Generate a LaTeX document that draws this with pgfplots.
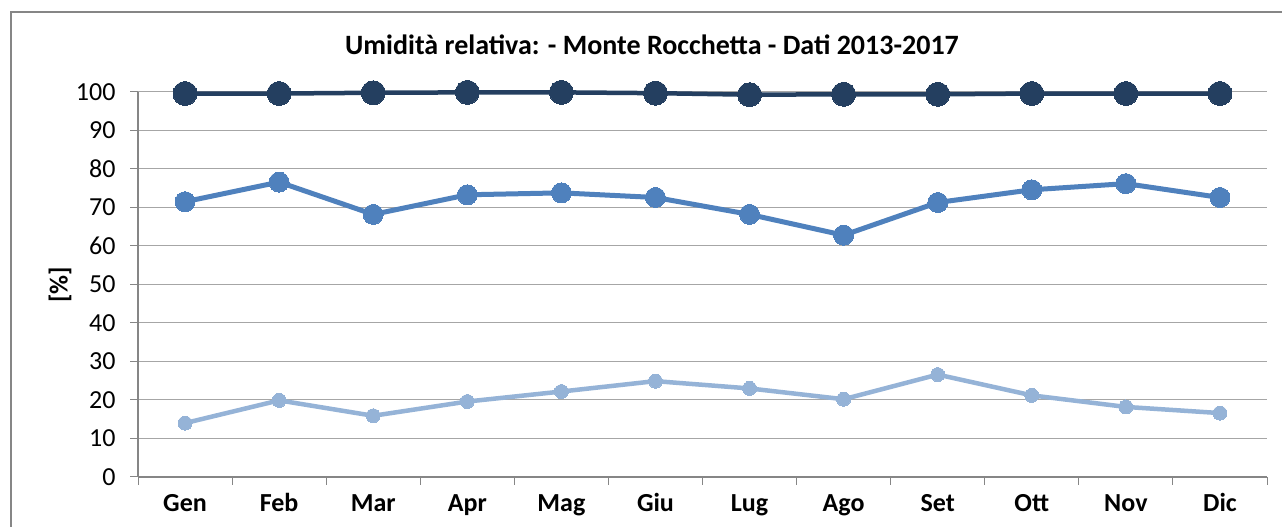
\documentclass[border=0pt]{standalone}
\usepackage{fontspec}
\setmainfont{Carlito}
\usepackage{pgfplots}
\pgfplotsset{compat=1.18}
\definecolor{navy}{HTML}{243F60}
\definecolor{midblue}{HTML}{4F81BD}
\definecolor{lightblue}{HTML}{95B3D7}
\definecolor{gridgray}{HTML}{A6A6A6}
\definecolor{axgray}{HTML}{868686}
\begin{document}
\begin{tikzpicture}
\useasboundingbox (0,0) rectangle (1282pt,527pt);
\clip (0,0) rectangle (1282pt,527pt);
\fill[white] (0,0) rectangle (1282pt,527pt);
\draw[axgray, line width=2pt] (11pt,-20pt) -- (11pt,515pt) -- (1300pt,515pt);
\node[font=\fontsize{28}{28}\selectfont\bfseries] at (652pt,482pt) {Umidità relativa: - Monte Rocchetta - Dati 2013-2017};
\node[font=\fontsize{26}{26}\selectfont\bfseries, rotate=90] at (60pt,242pt) {[\%]};
\begin{axis}[
  at={(138pt,50pt)}, anchor=south west,
  width=1129pt, height=385pt, scale only axis,
  xmin=-0.5, xmax=11.5, ymin=0, ymax=100,
  clip=false,
  separate axis lines,
  axis x line*=bottom, axis y line*=left,
  axis line style={-, draw=axgray, line width=1.2pt},
  tick align=outside,
  xtick={-0.5,0.5,...,11.5}, xticklabels={},
  extra x ticks={0,1,2,3,4,5,6,7,8,9,10,11},
  extra x tick labels={Gen,Feb,Mar,Apr,Mag,Giu,Lug,Ago,Set,Ott,Nov,Dic},
  extra x tick style={major tick length=0pt, grid=none,
     xticklabel style={font=\fontsize{26}{26}\selectfont\bfseries, text height=17pt, text depth=0pt, yshift=-14pt}},
  ytick={0,10,...,100},
  ymajorgrids,
  grid style={draw=gridgray, line width=1pt},
  major tick length=8pt,
  tick style={draw=axgray, line width=1pt},
  yticklabel style={font=\fontsize{26}{26}\selectfont, xshift=-11pt},
  /pgf/number format/assume math mode=true,
]
\addplot[lightblue, line width=4.5pt, mark=*, mark size=7pt, mark options={fill=lightblue, draw=lightblue, line width=0pt}]
coordinates {(0,14.0) (1,19.9) (2,15.9) (3,19.6) (4,22.2) (5,24.9) (6,23.0) (7,20.2) (8,26.6) (9,21.2) (10,18.2) (11,16.6)};
\addplot[midblue, line width=5pt, mark=*, mark size=10pt, mark options={fill=midblue, draw=midblue, line width=0pt}]
coordinates {(0,71.5) (1,76.6) (2,68.2) (3,73.3) (4,73.8) (5,72.6) (6,68.2) (7,62.8) (8,71.3) (9,74.6) (10,76.2) (11,72.6)};
\addplot[navy, line width=4.5pt, mark=*, mark size=12pt, mark options={fill=navy, draw=navy, line width=0pt}]
coordinates {(0,99.6) (1,99.6) (2,99.8) (3,99.9) (4,99.9) (5,99.7) (6,99.3) (7,99.4) (8,99.4) (9,99.6) (10,99.6) (11,99.6)};
\end{axis}
\end{tikzpicture}
\end{document}
